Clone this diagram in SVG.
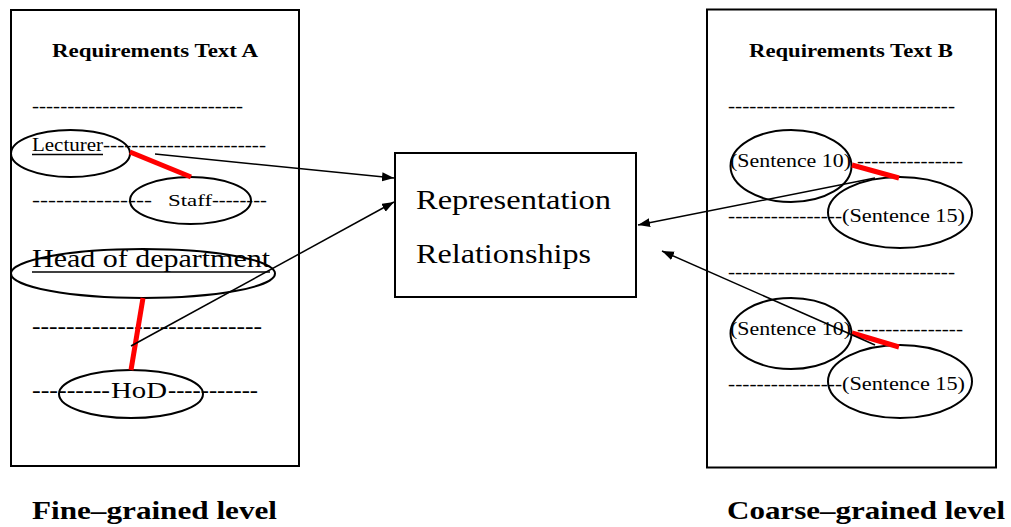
<svg xmlns="http://www.w3.org/2000/svg" width="1011" height="527" viewBox="0 0 1011 527">
  <style>
    .frame{fill:#fff;stroke:#000;stroke-width:2}
    .oval{fill:none;stroke:#000;stroke-width:2}
    .t{font-family:"Liberation Serif","DejaVu Serif",serif;fill:#000}
    .title{font-weight:bold;font-size:18px}
    .lvl{font-weight:bold;font-size:26px}
    .s19{font-size:19px}
    .s24{font-size:24px}
    .red{stroke:#f00;stroke-width:5;fill:none}
    .ul{stroke:#000;stroke-width:1.5}
    .arrow{stroke:#000;stroke-width:1.5;fill:none;marker-end:url(#ah)}
  </style>
  <defs>
    <marker id="ah" markerUnits="userSpaceOnUse" markerWidth="14" markerHeight="10" refX="12" refY="4.5" orient="auto">
      <path d="M0,0 L12,4.5 L0,9 z" fill="#000"/>
    </marker>
  </defs>
  <rect width="1011" height="527" fill="#fff"/>

  <!-- Requirements Text A -->
  <g id="doc-a">
    <rect class="frame" x="11" y="10" width="288" height="456"/>
    <text class="t title" x="155" y="57" text-anchor="middle" textLength="206" lengthAdjust="spacingAndGlyphs">Requirements Text A</text>
    <text class="t s19" x="32" y="112" textLength="211" lengthAdjust="spacingAndGlyphs">------------------------------</text>
    <text class="t s19" x="32" y="206" textLength="120" lengthAdjust="spacingAndGlyphs">---------------</text>
    <text class="t s19" x="212" y="206" textLength="55" lengthAdjust="spacingAndGlyphs">--------</text>
    <text class="t s24" x="32" y="334" textLength="230" lengthAdjust="spacingAndGlyphs">---------------------------</text>
    <text class="t s24" x="32" y="398" textLength="78" lengthAdjust="spacingAndGlyphs">---------</text>
    <text class="t s24" x="168" y="398" textLength="90" lengthAdjust="spacingAndGlyphs">-----------</text>
  </g>

  <g id="lecturer">
    <ellipse class="oval" cx="70.5" cy="153.5" rx="59.5" ry="23.5"/>
    <text class="t s19" x="32" y="151" textLength="71" lengthAdjust="spacingAndGlyphs">Lecturer</text>
    <line class="ul" x1="32" y1="154.5" x2="103" y2="154.5"/>
    <text class="t s19" x="103" y="151" textLength="163" lengthAdjust="spacingAndGlyphs">-----------------------</text>
  </g>

  <g id="staff">
    <ellipse class="oval" cx="190.5" cy="200.5" rx="60.5" ry="23.5"/>
    <text class="t" x="168" y="206" font-size="17" textLength="44" lengthAdjust="spacingAndGlyphs">Staff</text>
  </g>

  <g id="head-of-department">
    <ellipse class="oval" cx="143" cy="273.5" rx="132" ry="24.5"/>
    <text class="t" x="32" y="267" font-size="25" textLength="238" lengthAdjust="spacingAndGlyphs">Head of department</text>
    <line class="ul" x1="32" y1="272" x2="270" y2="272"/>
  </g>

  <g id="hod">
    <ellipse class="oval" cx="131" cy="394" rx="72" ry="24"/>
    <text class="t s24" x="111" y="398" textLength="56" lengthAdjust="spacingAndGlyphs">HoD</text>
  </g>

  <!-- Requirements Text B -->
  <g id="doc-b">
    <rect class="frame" x="707" y="9.5" width="289" height="458"/>
    <text class="t title" x="851" y="57" text-anchor="middle" textLength="204" lengthAdjust="spacingAndGlyphs">Requirements Text B</text>
    <text class="t s19" x="728" y="112" textLength="227" lengthAdjust="spacingAndGlyphs">--------------------------------</text>
    <text class="t s19" x="857" y="167" textLength="106" lengthAdjust="spacingAndGlyphs">---------------</text>
    <text class="t s19" x="728" y="222" textLength="114" lengthAdjust="spacingAndGlyphs">----------------</text>
    <text class="t s19" x="728" y="278" textLength="227" lengthAdjust="spacingAndGlyphs">--------------------------------</text>
    <text class="t s19" x="857" y="335" textLength="106" lengthAdjust="spacingAndGlyphs">---------------</text>
    <text class="t s19" x="728" y="390" textLength="114" lengthAdjust="spacingAndGlyphs">----------------</text>
  </g>

  <g id="sentence-10-a">
    <ellipse class="oval" cx="791" cy="166" rx="60.5" ry="36"/>
    <text class="t s19" x="730" y="167" textLength="121" lengthAdjust="spacingAndGlyphs">(Sentence 10)</text>
  </g>
  <g id="sentence-15-a">
    <ellipse class="oval" cx="900" cy="212.5" rx="72" ry="35.5"/>
    <text class="t s19" x="842" y="222" textLength="123" lengthAdjust="spacingAndGlyphs">(Sentence 15)</text>
  </g>
  <g id="sentence-10-b">
    <ellipse class="oval" cx="791" cy="333.5" rx="60.5" ry="35.5"/>
    <text class="t s19" x="730" y="335" textLength="121" lengthAdjust="spacingAndGlyphs">(Sentence 10)</text>
  </g>
  <g id="sentence-15-b">
    <ellipse class="oval" cx="900" cy="381.5" rx="72" ry="36.5"/>
    <text class="t s19" x="842" y="390" textLength="123" lengthAdjust="spacingAndGlyphs">(Sentence 15)</text>
  </g>

  <!-- Central node -->
  <g id="representation">
    <rect class="frame" x="395" y="153" width="241" height="144"/>
    <text class="t" x="416" y="209" font-size="27" textLength="195" lengthAdjust="spacingAndGlyphs">Representation</text>
    <text class="t" x="416" y="263" font-size="27" textLength="175" lengthAdjust="spacingAndGlyphs">Relationships</text>
  </g>

  <!-- Links between terms and arrows into the central node -->
  <g id="connectors">
    <line class="red" x1="130" y1="152" x2="191" y2="177"/>
    <line class="red" x1="143" y1="298" x2="131" y2="370"/>
    <line class="red" x1="852" y1="165" x2="899" y2="178"/>
    <line class="red" x1="852" y1="333" x2="899" y2="347"/>
    <line class="arrow" x1="155" y1="154" x2="394" y2="178"/>
    <line class="arrow" x1="131" y1="346" x2="394" y2="202"/>
    <line class="arrow" x1="875" y1="178" x2="638" y2="225"/>
    <line class="arrow" x1="875" y1="345" x2="662" y2="251"/>
  </g>

  <g id="levels">
    <text class="t lvl" x="32" y="519" textLength="245" lengthAdjust="spacingAndGlyphs">Fine–grained level</text>
    <text class="t lvl" x="727" y="519" textLength="278" lengthAdjust="spacingAndGlyphs">Coarse–grained level</text>
  </g>
</svg>
